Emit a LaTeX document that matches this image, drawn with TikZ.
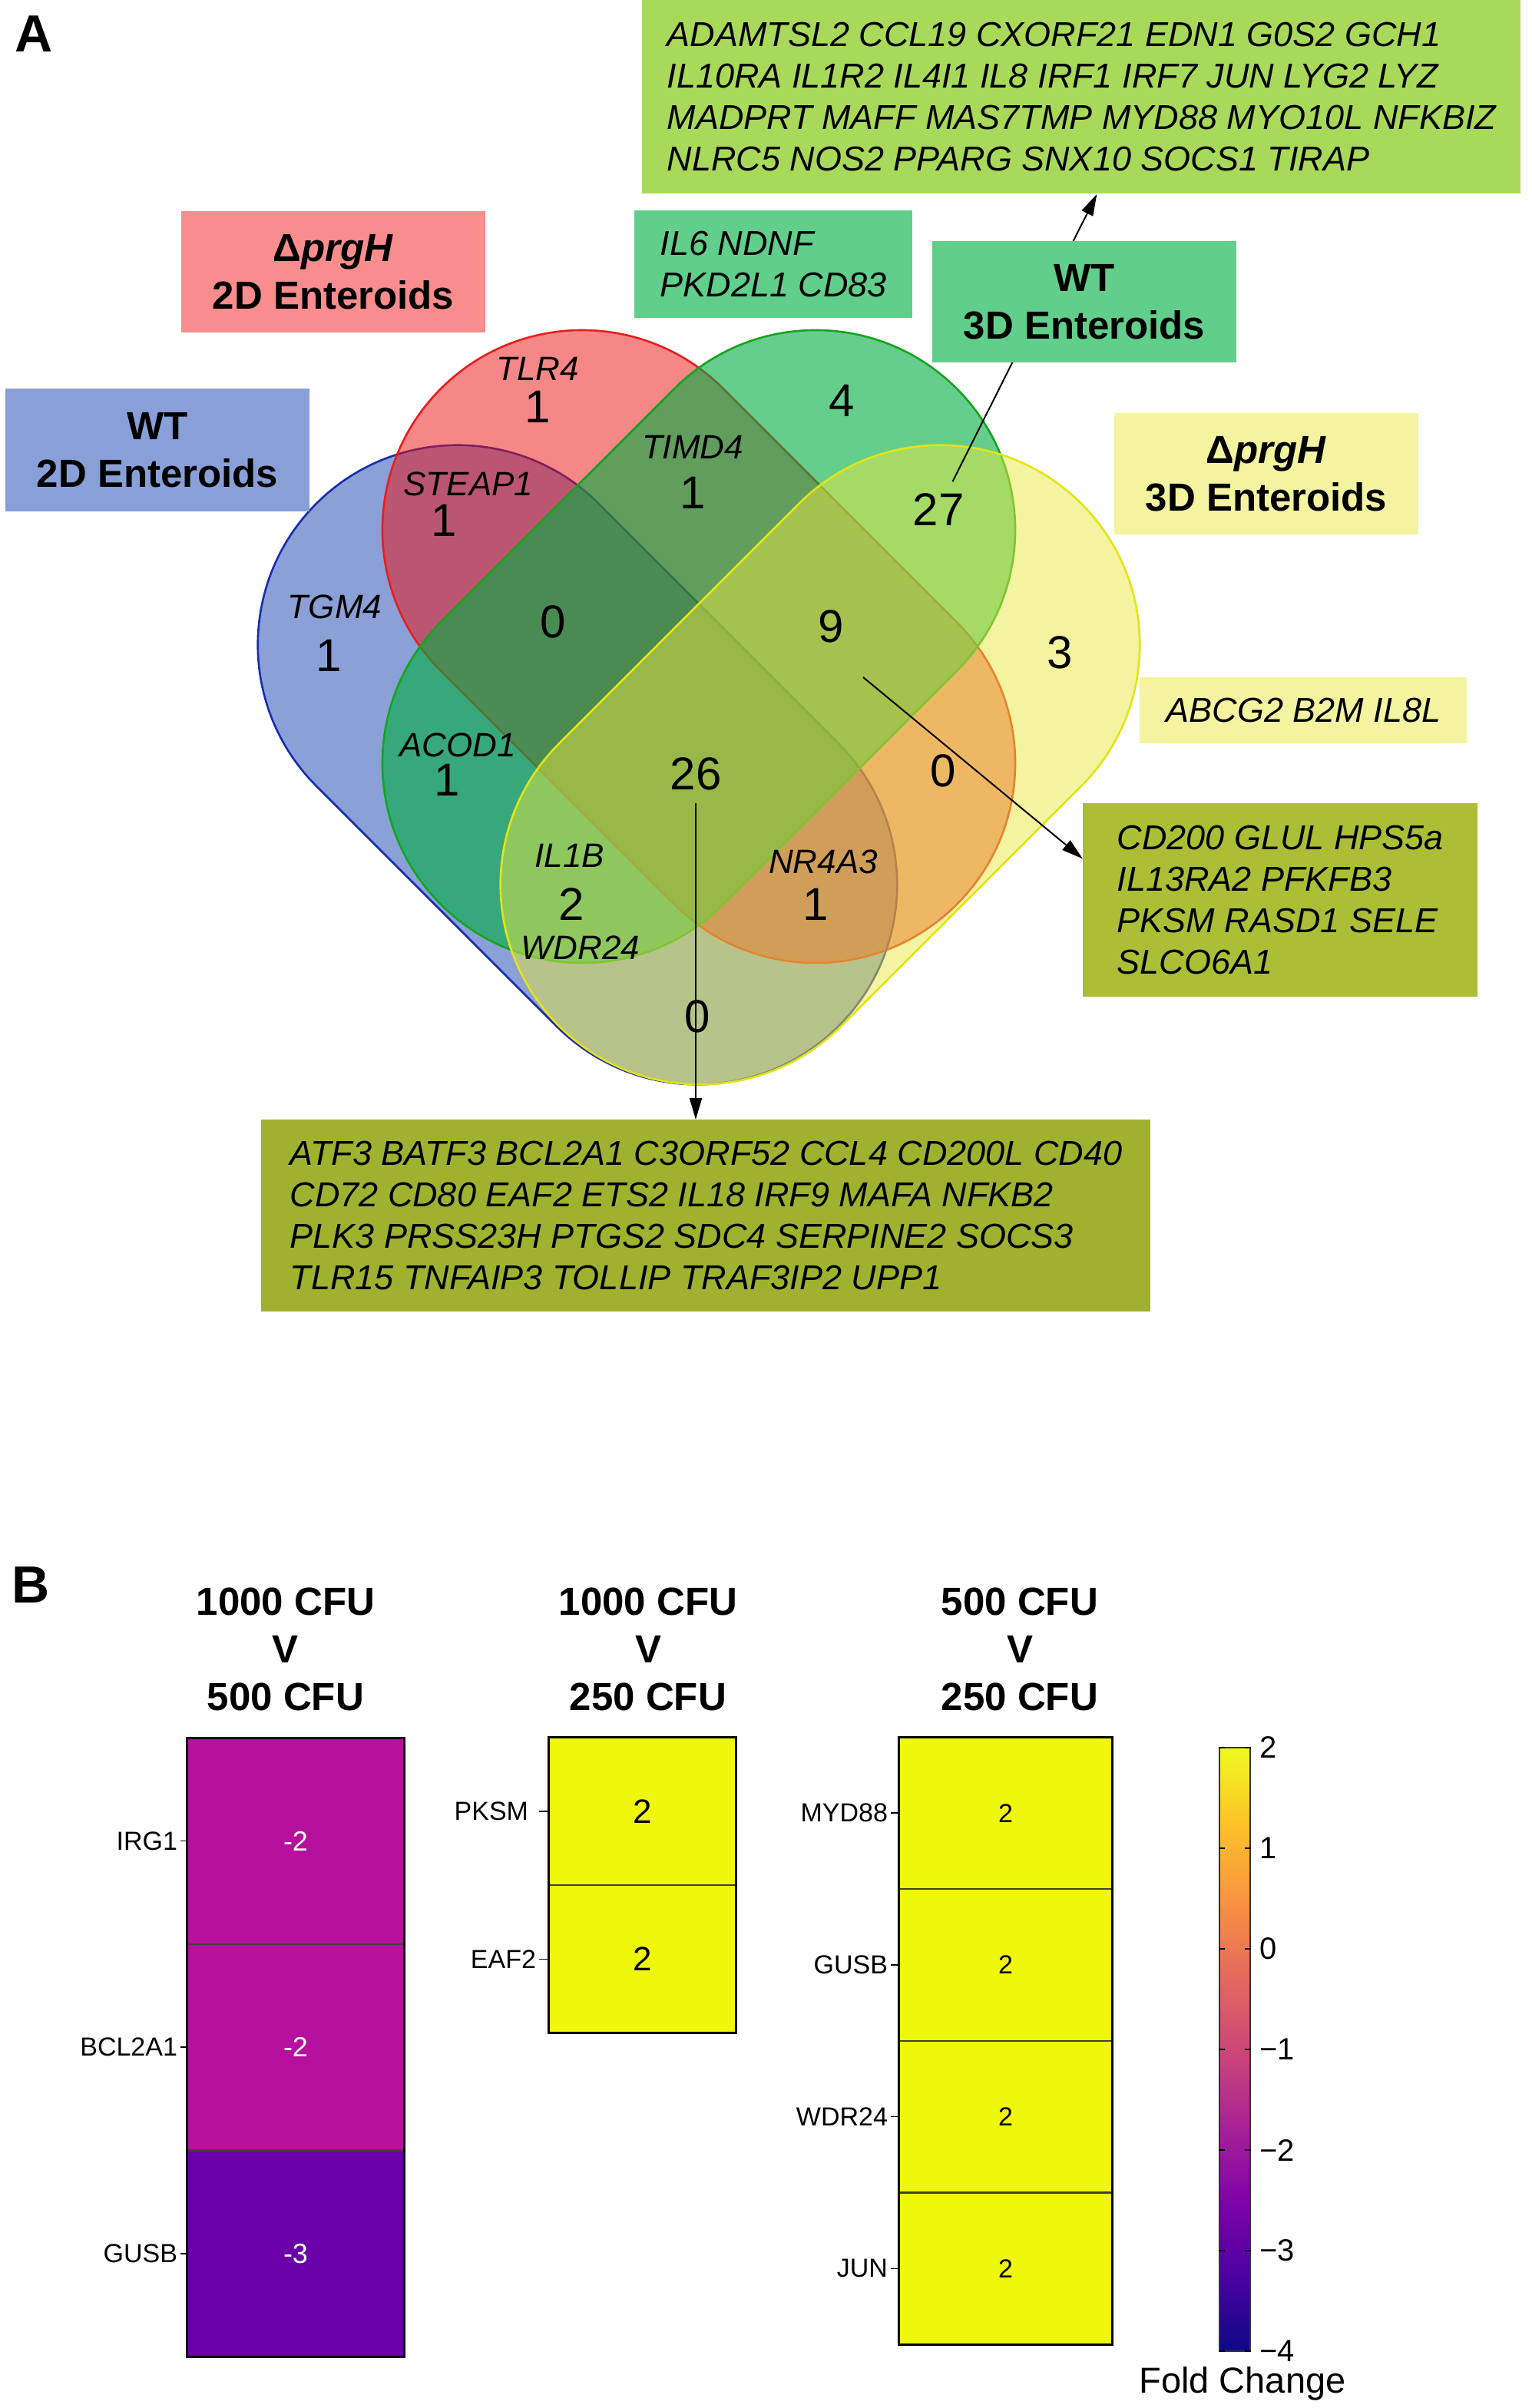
\documentclass[tikz,border=0pt]{standalone}
\usepackage{fontspec}
\setmainfont{Liberation Sans}
\usepackage{xcolor}
\usetikzlibrary{positioning, shapes.misc, arrows.meta}

% set colours
\definecolor{wtblue}{RGB}{21,65,175}
\definecolor{wtblueline}{RGB}{25,45,170}
\definecolor{dpred}{RGB}{235,15,15}
\definecolor{dpredline}{RGB}{232,30,30}
\definecolor{wtgreen}{RGB}{0,173,63}
\definecolor{wtgreenline}{RGB}{20,165,30}
\definecolor{dpyellow}{RGB}{231,231,65}
\definecolor{dpyellowline}{RGB}{228,228,20}
% label boxes
\definecolor{boxblue}{RGB}{137,159,216}
\definecolor{boxred}{RGB}{249,140,140}
\definecolor{boxgreen}{RGB}{97,206,140}
\definecolor{boxyellow}{RGB}{243,243,160}
\definecolor{boxlime}{RGB}{169,217,90}
\definecolor{boxolive}{RGB}{172,190,54}
\definecolor{boxolivedark}{RGB}{160,177,48}
% heatmap
\definecolor{hmmag}{RGB}{182,17,158}
\definecolor{hmpurple}{RGB}{106,0,168}
\definecolor{hmyellow}{RGB}{239,248,10}
\definecolor{pl0}{RGB}{13,8,135}
\definecolor{pl1}{RGB}{76,2,161}
\definecolor{pl2}{RGB}{126,3,168}
\definecolor{pl3}{RGB}{169,35,149}
\definecolor{pl4}{RGB}{204,71,120}
\definecolor{pl5}{RGB}{229,107,93}
\definecolor{pl6}{RGB}{248,148,65}
\definecolor{pl7}{RGB}{253,195,40}
\definecolor{pl8}{RGB}{240,249,33}

\pgfdeclareverticalshading{plasma}{100bp}{color(0bp)=(pl0); color(25bp)=(pl0);
  color(31.25bp)=(pl1); color(37.5bp)=(pl2); color(43.75bp)=(pl3); color(50bp)=(pl4);
  color(56.25bp)=(pl5); color(62.5bp)=(pl6); color(68.75bp)=(pl7); color(75bp)=(pl8);
  color(100bp)=(pl8)}

\tikzset{
  venn/.style={rounded rectangle, inner sep=0pt, minimum height=260pt,
    minimum width=#1, line width=1.3pt, fill opacity=0.5},
  cnt/.style={font=\fontsize{30}{30}\selectfont},
  gname/.style={font=\fontsize{22}{22}\selectfont\itshape},
  genebox/.style={anchor=north west, inner sep=0pt, align=left,
    font=\fontsize{22.5}{27}\selectfont\itshape},
  setbox/.style={inner sep=0pt, align=center, minimum width=198pt, minimum height=79pt,
    font=\fontsize{25.5}{31}\selectfont\bfseries},
  arr/.style={-{Triangle[length=14pt,width=8pt]}, line width=1pt},
  hmtitle/.style={align=center, font=\fontsize{25.5}{31}\selectfont\bfseries},
  hcell/.style={draw=black!75, line width=0.6pt, inner sep=0pt},
  rowlab/.style={font=\fontsize{17}{17}\selectfont, inner sep=1pt},
  cblab/.style={anchor=west, font=\fontsize{20}{20}\selectfont, inner sep=0pt},
  panel/.style={font=\fontsize{34}{34}\selectfont\bfseries}
}

\begin{document}
\begin{tikzpicture}[x=1pt, y=-1pt]
    \useasboundingbox (0,0) rectangle (997,1568);

    \node[panel] (pa) at (22,22) {A};

    % the four sets
    \node[venn=481pt, fill=wtblue, draw=wtblueline, rotate=-45] (wt2d) at (376,498) {};
    \node[venn=475pt, fill=dpred, draw=dpredline, rotate=-45] (dp2d) at (455,421) {};
    \node[venn=475pt, fill=wtgreen, draw=wtgreenline, fill opacity=0.6, rotate=45] (wt3d) at (455,421) {};
    \node[venn=481pt, fill=dpyellow, draw=dpyellowline, rotate=45] (dp3d) at (534,498) {};

    % counts and genes
    \node[gname] (tlr4) at (350,240) {TLR4};
    \node[cnt] (n1a) at (350,265) {1};
    \node[gname] (steap1) at (305,315) {STEAP1};
    \node[cnt] (n1b) at (289,339) {1};
    \node[gname] (tgm4) at (218,395) {TGM4};
    \node[cnt] (n1c) at (214,427) {1};
    \node[cnt] (n0a) at (360,405) {0};
    \node[gname] (timd4) at (451,291) {TIMD4};
    \node[cnt] (n1d) at (451,321) {1};
    \node[cnt] (n4) at (548,261) {4};
    \node[cnt] (n27) at (611,332) {27};
    \node[cnt] (n9) at (541,408) {9};
    \node[cnt] (n3) at (690,425) {3};
    \node[gname] (acod1) at (298,485) {ACOD1};
    \node[cnt] (n1e) at (291,508) {1};
    \node[cnt] (n26) at (453,504) {26};
    \node[cnt] (n0b) at (614,502) {0};
    \node[gname] (il1b) at (371,557) {IL1B};
    \node[cnt] (n2) at (372,589) {2};
    \node[gname] (wdr24) at (378,617) {WDR24};
    \node[gname] (nr4a3) at (536,561) {NR4A3};
    \node[cnt] (n1f) at (531,589) {1};
    \node[cnt] (n0c) at (454,662) {0};

    % gene lists
    \node[genebox, fill=boxlime, minimum width=572pt, minimum height=126pt] (g27) at (418,0)
      {ADAMTSL2 CCL19 CXORF21 EDN1 G0S2 GCH1\\
       IL10RA IL1R2 IL4I1 IL8 IRF1 IRF7 JUN LYG2 LYZ\\
       MADPRT MAFF MAS7TMP MYD88 MYO10L NFKBIZ\\
       NLRC5 NOS2 PPARG SNX10 SOCS1 TIRAP};
    \node[genebox, fill=boxolive, minimum width=257pt, minimum height=126pt] (g9) at (705,523)
      {CD200 GLUL HPS5a\\ IL13RA2 PFKFB3\\ PKSM RASD1 SELE\\ SLCO6A1};
    \node[genebox, fill=boxolivedark, minimum width=579pt, minimum height=125pt] (g26) at (170,729)
      {ATF3 BATF3 BCL2A1 C3ORF52 CCL4 CD200L CD40\\
       CD72 CD80 EAF2 ETS2 IL18 IRF9 MAFA NFKB2\\
       PLK3 PRSS23H PTGS2 SDC4 SERPINE2 SOCS3\\
       TLR15 TNFAIP3 TOLLIP TRAF3IP2 UPP1};

    \draw[arr, shorten <=5pt] (n27) -- ([xshift=10pt]g27.south);
    \draw[arr] ([xshift=21pt,yshift=-33pt]n9.center) -- ([yshift=27pt]g9.west);
    \draw[arr, shorten <=5pt] (n26.south) -- (n26.south |- g26.north);

    \node[genebox, fill=boxgreen, minimum width=181pt, minimum height=70pt] (g4) at (413,137)
      {IL6 NDNF\\ PKD2L1 CD83};
    \node[genebox, fill=boxyellow, minimum width=213pt, minimum height=43pt] (g3) at (742,441)
      {ABCG2 B2M IL8L};

    % set labels
    \node[setbox, fill=boxred] (dp2dlab) at (217,177) {Δ\textit{prgH}\\ 2D Enteroids};
    \node[setbox, fill=boxblue, minimum height=80pt] (wt2dlab) at (102.5,293) {WT\\ 2D Enteroids};
    \node[setbox, fill=boxgreen] (wt3dlab) at (706,196.5) {WT\\ 3D Enteroids};
    \node[setbox, fill=boxyellow] (dp3dlab) at (824.5,308.5) {Δ\textit{prgH}\\ 3D Enteroids};

    % heatmaps
    \node[panel] (pb) at (20,1032) {B};

    \node[hmtitle] (t1) at (186,1074) {1000 CFU\\ V\\ 500 CFU};
    \node[hmtitle] (t2) at (422,1074) {1000 CFU\\ V\\ 250 CFU};
    \node[hmtitle] (t3) at (664,1074) {500 CFU\\ V\\ 250 CFU};

    \node[hcell, fill=hmmag, minimum width=141pt, minimum height=133.7pt, text=white,
      font=\fontsize{18}{18}\selectfont] (irg1) at (192.5,1198.8) {-2};
    \node[hcell, fill=hmmag, minimum width=141pt, minimum height=133.7pt, text=white,
      font=\fontsize{18}{18}\selectfont, below=0pt of irg1] (bcl2a1) {-2};
    \node[hcell, fill=hmpurple, minimum width=141pt, minimum height=133.7pt, text=white,
      font=\fontsize{18}{18}\selectfont, below=0pt of bcl2a1] (gusba) {-3};
    \draw[line width=1.5pt] (irg1.north west) rectangle (gusba.south east);

    \node[hcell, fill=hmyellow, minimum width=121.5pt, minimum height=95.75pt,
      font=\fontsize{22}{22}\selectfont] (pksm) at (418.25,1179.4) {2};
    \node[hcell, fill=hmyellow, minimum width=121.5pt, minimum height=95.75pt,
      font=\fontsize{22}{22}\selectfont, below=0pt of pksm] (eaf2) {2};
    \draw[line width=1.5pt] (pksm.north west) rectangle (eaf2.south east);

    \node[hcell, fill=hmyellow, minimum width=138.5pt, minimum height=98.25pt,
      font=\fontsize{17}{17}\selectfont] (myd88) at (654.75,1180.6) {2};
    \node[hcell, fill=hmyellow, minimum width=138.5pt, minimum height=98.25pt,
      font=\fontsize{17}{17}\selectfont, below=0pt of myd88] (gusbc) {2};
    \node[hcell, fill=hmyellow, minimum width=138.5pt, minimum height=98.25pt,
      font=\fontsize{17}{17}\selectfont, below=0pt of gusbc] (wdr24c) {2};
    \node[hcell, fill=hmyellow, minimum width=138.5pt, minimum height=98.25pt,
      font=\fontsize{17}{17}\selectfont, below=0pt of wdr24c] (jun) {2};
    \draw[line width=1.5pt] (myd88.north west) rectangle (jun.south east);

    % row labels with ticks
    \node[rowlab, left=5pt of irg1.west] (irg1lab) {IRG1};
    \node[rowlab, left=5pt of bcl2a1.west] (bcl2a1lab) {BCL2A1};
    \node[rowlab, left=5pt of gusba.west] (gusbalab) {GUSB};
    \node[rowlab, left=12pt of pksm.west] (pksmlab) {PKSM};
    \node[rowlab, left=7pt of eaf2.west] (eaf2lab) {EAF2};
    \node[rowlab, left=6pt of myd88.west] (myd88lab) {MYD88};
    \node[rowlab, left=6pt of gusbc.west] (gusbclab) {GUSB};
    \node[rowlab, left=6pt of wdr24c.west] (wdr24clab) {WDR24};
    \node[rowlab, left=6pt of jun.west] (junlab) {JUN};
    \foreach \r in {irg1, bcl2a1, gusba, eaf2, myd88, gusbc, wdr24c, jun}
      \draw[line width=0.8pt] ([xshift=1pt]\r lab.east) -- (\r.west);
    \draw[line width=0.8pt] ([xshift=-6pt]pksm.west) -- (pksm.west);

    % colour bar
    \node[draw=black!80, line width=1pt, shading=plasma, inner sep=0pt,
      minimum width=20pt, minimum height=393pt] (cbar) at (804,1334.5) {};
    \foreach \v/\t in {2/2, 1/1, 0/0, -1/−1, -2/−2, -3/−3, -4/−4}{
      \node[cblab] (cb\v) at (820,1269-65.5*\v) {\t};
      \draw[line width=0.8pt] (cbar.west |- cb\v.west) -- ++(4,0);
      \draw[line width=0.8pt] (cbar.east |- cb\v.west) -- ++(-4,0);
    }
    \node[font=\fontsize{23.5}{23.5}\selectfont] (fc) at (809,1552) {Fold Change};

\end{tikzpicture}
\end{document}
